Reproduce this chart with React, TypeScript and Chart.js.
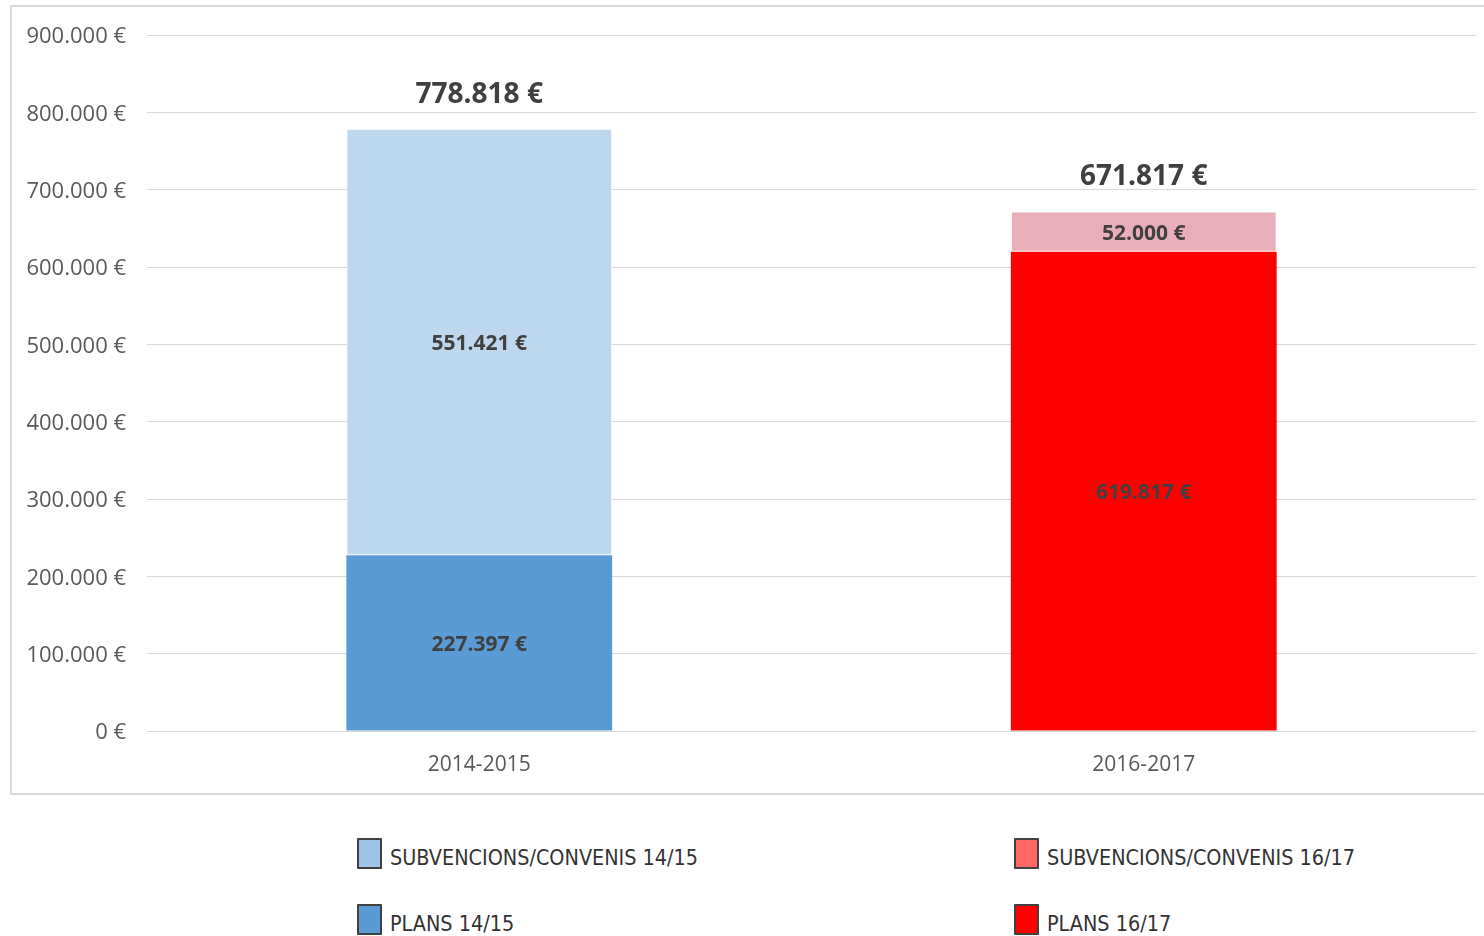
import React, { useEffect, useRef } from "react";
import { Chart, registerables } from "chart.js";

Chart.register(...registerables);

const categories = ["2014-2015", "2016-2017"];
const plansValues = [227397, 619817];
const subvValues = [551421, 52000];
const plansColors = ["#5B9BD5", "#FF0000"];
const subvColors = ["#BDD7EE", "#E8AEB9"];
const yTicks = [0, 100000, 200000, 300000, 400000, 500000, 600000, 700000, 800000, 900000];

const legendItems = [
  { label: "SUBVENCIONS/CONVENIS 14/15", color: "#9DC3E6", left: 357, top: 838 },
  { label: "PLANS 14/15", color: "#5B9BD5", left: 357, top: 904 },
  { label: "SUBVENCIONS/CONVENIS 16/17", color: "#FF6666", left: 1014, top: 838 },
  { label: "PLANS 16/17", color: "#FF0000", left: 1014, top: 904 },
];

const FONT = "'Open Sans', 'Noto Sans', sans-serif";

function fmt(n: number): string {
  const s = Math.round(n).toString();
  return s.replace(/\B(?=(\d{3})+(?!\d))/g, ".") + " €";
}

const labelPlugin = {
  id: "barLabels",
  afterDatasetsDraw(chart: any) {
    const ctx = chart.ctx;
    ctx.save();
    ctx.textAlign = "center";
    ctx.textBaseline = "middle";
    ctx.fillStyle = "#404040";
    ctx.font = `bold 21px ${FONT}`;
    chart.data.datasets.forEach((ds: any, di: number) => {
      const meta = chart.getDatasetMeta(di);
      meta.data.forEach((el: any, i: number) => {
        const v = ds.data[i];
        if (v == null) return;
        const y = (el.y + el.base) / 2 + 2;
        ctx.fillText(fmt(v), el.x, y);
      });
    });
    const yScale = chart.scales.y;
    ctx.font = `bold 28px ${FONT}`;
    const meta0 = chart.getDatasetMeta(0);
    categories.forEach((_, i) => {
      const total = plansValues[i] + subvValues[i];
      const x = meta0.data[i].x;
      const y = yScale.getPixelForValue(total) - 34;
      ctx.fillText(fmt(total), x, y);
    });
    ctx.restore();
  },
};

export default function App() {
  const ref = useRef<HTMLCanvasElement | null>(null);

  useEffect(() => {
    if (!ref.current) return;
    const chart = new Chart(ref.current, {
      type: "bar",
      data: {
        labels: categories,
        datasets: [
          {
            label: "PLANS",
            data: plansValues,
            backgroundColor: plansColors,
            borderWidth: 0,
          },
          {
            label: "SUBVENCIONS/CONVENIS",
            data: subvValues,
            backgroundColor: subvColors,
            borderColor: "#FFFFFF",
            borderWidth: 1,
            borderSkipped: false,
          },
        ],
      },
      options: {
        responsive: false,
        animation: false,
        layout: { padding: { top: 35, right: 8, left: 0, bottom: 0 } },
        plugins: {
          legend: { display: false },
          tooltip: { enabled: false },
        },
        datasets: {
          bar: { categoryPercentage: 1, barPercentage: 0.4 },
        },
        scales: {
          x: {
            stacked: true,
            grid: { display: false, drawTicks: false },
            border: { display: false },
            ticks: {
              color: "#595959",
              font: { family: FONT, size: 21 },
              padding: 21,
            },
            afterFit: (scale: any) => {
              scale.height = 69;
            },
          },
          y: {
            stacked: true,
            min: 0,
            max: 900000,
            afterBuildTicks: (scale: any) => {
              scale.ticks = yTicks.map((v) => ({ value: v }));
            },
            grid: { color: "#D9D9D9", lineWidth: 1, drawTicks: false },
            border: { display: false },
            ticks: {
              color: "#595959",
              font: { family: FONT, size: 22 },
              padding: 21,
              labelOffset: 2,
              callback: (v: any) => fmt(Number(v)),
            },
            afterFit: (scale: any) => {
              scale.width = 147;
            },
          },
        },
      },
      plugins: [labelPlugin],
    });
    return () => chart.destroy();
  }, []);

  return (
    <div style={{ position: "fixed", left: 0, top: 0, width: 1484, height: 936, background: "#fff", overflow: "hidden" }}>
      <div
        style={{
          position: "absolute",
          left: 10,
          top: 5,
          width: 1490,
          height: 786,
          border: "2px solid #D9D9D9",
        }}
      />
      <canvas ref={ref} width={1484} height={800} style={{ position: "absolute", left: 0, top: 0 }} />
      {legendItems.map((it) => (
        <div key={it.label} style={{ position: "absolute", left: it.left, top: it.top, height: 31, display: "flex", alignItems: "center" }}>
          <div
            style={{
              width: 21,
              height: 27,
              background: it.color,
              border: "2px solid #404040",
              borderRadius: 1,
            }}
          />
          <span
            style={{
              marginLeft: 8,
              fontFamily: "'DejaVu Sans Condensed', 'DejaVu Sans', sans-serif",
              fontStretch: "condensed",
              fontSize: 21.4,
              color: "#333333",
              whiteSpace: "nowrap",
              display: "inline-block",
              position: "relative",
              top: 4,
            }}
          >
            {it.label}
          </span>
        </div>
      ))}
    </div>
  );
}
